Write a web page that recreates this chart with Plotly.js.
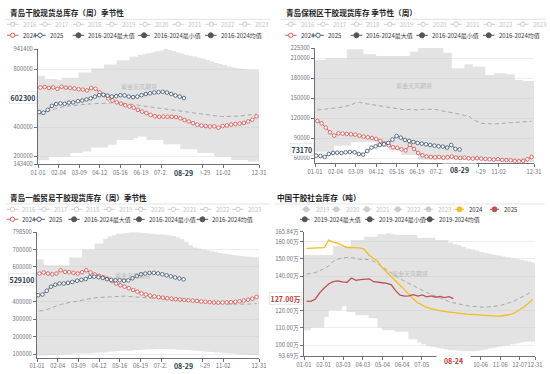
<!DOCTYPE html>
<html><head><meta charset="utf-8">
<script src="https://cdn.plot.ly/plotly-3.0.1.min.js"></script>
<style>html,body{margin:0;padding:0;background:#fff}#c{width:550px;height:374px}</style>
</head><body><div id="c"></div>
<script>
// ---------------- data ----------------
const dates2024 = ["01-05","01-12","01-19","01-26","02-02","02-09","02-16","02-23","03-01","03-08","03-15","03-22","03-29","04-05","04-12","04-19","04-26","05-03","05-10","05-17","05-24","05-31","06-07","06-14","06-21","06-28","07-05","07-12","07-19","07-26","08-02","08-09","08-16","08-23","08-30","09-06","09-13","09-20","09-27","10-04","10-11","10-18","10-25","11-01","11-08","11-15","11-22","11-29","12-06","12-13","12-20","12-27"];
const dates2025 = ["01-03","01-10","01-17","01-24","01-31","02-07","02-14","02-21","02-28","03-07","03-14","03-21","03-28","04-04","04-11","04-18","04-25","05-02","05-09","05-16","05-23","05-30","06-06","06-13","06-20","06-27","07-04","07-11","07-18","07-25","08-01","08-08","08-15","08-22","08-29"];
const p4dates2025 = ["01-05","01-12","01-19","01-26","02-02","02-09","02-16","02-23","03-02","03-09","03-16","03-23","03-30","04-06","04-13","04-20","04-27","05-04","05-11","05-18","05-25","06-01","06-08","06-15","06-22","06-29","07-06","07-13","07-20","07-27","08-03","08-10","08-17","08-24"];

// panel 1: 青岛干胶现货总库存
const p1_2024 = [675000,678000,672000,676000,665000,680000,674000,672000,668000,663000,660000,655000,672000,666000,640000,622000,600000,585000,572000,563000,552000,543000,535000,520000,508000,498000,485000,476000,472000,473000,472000,472000,470000,462000,450000,440000,428000,418000,411000,408000,405000,406000,397000,408000,412000,418000,422000,425000,430000,440000,452000,475000];
const p1_2025 = [505000,500000,520000,548000,560000,565000,562000,570000,572000,580000,585000,592000,600000,612000,622000,625000,618000,612000,615000,622000,620000,612000,608000,612000,622000,630000,635000,640000,643000,645000,640000,630000,620000,612000,602300];
const p1_mean = [490000,495000,515000,525000,533000,540000,545000,549000,552000,555000,558000,560000,562000,564000,566000,567000,568000,569000,570000,568000,564000,556000,552000,548000,544000,540000,537000,533000,530000,526000,522000,518000,515000,511000,507000,503000,499000,495000,492000,488000,482000,478000,476000,474000,473000,474000,476000,478000,480000,484000,487000,492000];
const p1_max = [756000,733000,733000,733000,727000,742000,742000,742000,742000,779000,779000,779000,807000,807000,807000,834000,834000,834000,864000,864000,864000,887000,887000,900000,905000,912000,918000,925000,930000,941400,935000,925000,918000,910000,900000,895000,890000,880000,876000,865000,855000,845000,838000,830000,820000,815000,808000,805000,802000,798000,796000,795000];
const p1_min = [172000,172000,197000,197000,197000,197000,197000,221000,221000,221000,232000,232000,259000,259000,259000,259000,278000,278000,312000,312000,312000,312000,324000,335000,335000,312000,312000,312000,312000,282000,282000,282000,282000,248000,248000,248000,248000,221000,221000,221000,221000,197000,197000,197000,197000,174000,174000,174000,174000,163000,163000,163000];

// panel 2: 青岛保税区干胶现货库存
const p2_2024 = [116000,112500,106000,99000,94000,97500,97000,96500,96000,95500,94000,92500,91500,90500,89000,86000,82500,79500,76500,75500,73500,72000,80000,74000,68000,64500,62500,62000,61500,62000,61000,61500,62500,61000,60500,61000,60000,59500,60000,59500,59000,58500,58000,58500,57500,57500,57000,56000,55500,56000,58500,62000];
const p2_2025 = [64000,63500,62000,66500,68000,68500,68000,69000,69500,69000,66500,65500,71000,76000,78000,80000,81000,83000,88000,93500,91000,87500,86000,84500,83000,82000,81000,80000,79000,78000,77500,76000,80000,74000,73170];
const p2_mean = [132500,133000,133500,134000,135000,136000,137000,138500,140000,143000,144000,142500,141500,140500,140000,139000,137500,136500,135500,134500,133500,132500,133500,133000,132500,133500,133500,133000,133500,132000,131000,130000,128500,127500,126000,124000,123500,118000,115000,112500,112000,111500,111500,112000,112500,113000,113500,114000,114500,115000,115000,115500];
const p2_max = [207500,207500,210000,210000,210000,210000,210000,223500,223500,223500,223500,216000,216000,216000,213500,213500,213500,213500,213500,213500,213500,213500,220000,220000,225300,225300,225300,225300,225300,225300,218000,218000,195000,195000,195000,201000,201000,197500,197500,197500,185000,185000,187500,187500,187500,186000,186000,177500,177500,176000,176000,176000];
const p2_min = [70000,70000,70000,70000,79000,79000,79000,79000,84000,84000,84000,84000,84000,84000,77500,77500,77500,72500,72500,72500,65000,65000,65000,65000,58000,58000,58000,58000,58000,58000,58000,58000,58000,58000,58000,57500,57500,57500,57500,56500,56500,56500,56500,56500,56500,56500,54500,54500,54500,54500,54500,54500];

// panel 3: 青岛一般贸易干胶现货库存
const p3_2024 = [562000,568000,562000,558000,562000,581000,572000,570000,566000,562000,570000,581000,568000,557000,549000,541000,533000,519000,505000,495000,487000,478000,468000,458000,448000,442000,436000,431000,427000,424000,421000,418000,415000,413000,411000,409000,407000,405000,402000,400000,398000,396000,395000,396000,397000,398000,400000,403000,407000,412000,418000,428000];
const p3_2025 = [438000,442000,463000,487000,498000,505000,505000,509000,514000,521000,526000,531000,543000,544000,541000,537000,530000,526000,524000,524000,521000,523000,535000,548000,558000,562000,565000,566000,563000,558000,552000,546000,540000,534000,529100];
const p3_mean = [348000,350000,358000,368000,378000,385000,391000,396000,401000,406000,410000,414000,419000,423000,425000,427000,428000,430000,432000,434000,433000,431000,429000,427000,425000,422000,420000,418000,416000,414000,412000,410000,408000,406000,404000,402000,400000,398000,396000,394000,392000,391000,390000,389000,388000,387000,386000,386000,386000,387000,388000,390000];
const p3_max = [643000,610000,610000,610000,610000,610000,610000,654000,654000,654000,700000,700000,700000,734000,734000,760000,775000,782000,790000,792000,795000,798500,798500,797000,795000,793000,790000,788000,786000,784000,782000,778000,770000,760000,745000,725000,712000,705000,700000,695000,690000,685000,680000,676000,672000,668000,665000,662000,660000,658000,656000,655000];
const p3_min = [93000,93000,95000,95000,97000,97000,100000,100000,102000,104000,104000,104000,106000,108000,110000,110000,114000,116000,118000,119000,120000,120000,122000,124000,126000,128000,128000,130000,130000,130000,128000,128000,126000,125000,124000,122000,120000,118000,116000,114000,112000,110000,108000,106000,104000,102000,100000,98000,97000,96000,95000,95000];

// panel 4: 中国干胶社会库存 (万吨)
const p4_2024 = [156.2,156.3,156.4,156.5,156.6,161.0,159.8,159.2,157.8,156.7,156.6,156.7,156.5,155.8,152.5,150.6,148.8,145.2,142.5,140.0,137.5,135.0,132.5,129.5,127.0,124.8,123.2,122.0,121.2,120.5,120.0,119.6,119.2,118.8,118.5,118.2,118.0,117.8,117.6,117.4,117.2,117.0,116.9,116.8,116.9,117.2,117.8,118.8,120.2,122.0,124.2,126.5];
const p4_2025 = [125.5,125.4,126.8,130.5,133.2,135.5,136.8,137.3,136.7,136.5,139.0,137.6,138.0,138.1,138.5,136.8,136.3,136.2,135.9,135.0,131.5,129.0,128.4,128.6,129.3,128.5,129.2,128.0,128.6,127.8,128.3,127.6,128.1,127.0];
const p4_mean = [141.2,141.6,142.1,143.3,144.3,146.0,148.6,149.8,150.6,150.9,150.9,150.4,149.8,149.8,149.7,148.8,147.5,145.7,143.9,142.1,140.3,138.6,137.3,135.9,134.7,133.3,132.0,130.7,129.5,128.4,127.3,126.4,125.5,124.7,124.0,123.5,123.0,122.6,122.3,122.1,122.0,122.1,122.3,122.7,123.2,123.9,124.8,125.8,127.0,128.3,129.8,131.5];
const p4_max = [152.3,152.3,152.3,152.3,152.3,152.3,157.5,157.5,157.5,157.5,161.0,161.0,161.0,162.9,162.9,162.9,164.3,164.3,164.8,164.3,163.9,163.9,163.9,163.9,163.9,162.3,162.3,162.3,162.3,161.0,161.0,161.0,159.5,158.5,158.0,157.0,156.0,155.5,155.0,154.0,153.5,153.0,152.5,152.0,151.5,151.0,150.5,150.0,149.5,149.0,148.5,148.0];
const p4_min = [108.6,110.2,110.2,110.2,116.4,120.3,120.3,120.3,122.6,119.3,119.3,117.4,117.4,117.4,115.6,115.6,110.2,108.6,108.6,108.6,107.7,107.7,107.7,103.4,103.4,101.5,100.5,99.5,99.0,98.5,98.0,97.5,97.0,97.0,96.8,96.5,96.5,96.5,96.8,97.0,97.5,98.0,98.5,99.0,99.5,100.0,100.5,101.0,101.5,102.0,102.0,102.0];

// tick labels & text
const xticks123 = ["01-01","02-04","03-09","04-12","05-16","06-19","07-23","09-29","11-02","12-31"];
const xticks4 = ["01-01","02-01","03-03","04-03","05-04","06-04","07-05","08-05","09-05","10-06","11-06","12-07","12-31"];
const xticks4Hidden = ["08-05","09-05"];
const y1ticks = [143400,200000,400000,800000,941400];
const y2ticks = [60000,90000,120000,150000,180000,210000,225300];
const y3ticks = [100000,200000,300000,400000,600000,700000,798500];
const y4ticks = [93.69,100,110,120,140,150,160,165.84];
const titles = ["青岛干胶现货总库存（周）季节性","青岛保税区干胶现货库存 季节性（周）","青岛一般贸易干胶现货库存（周）季节性","中国干胶社会库存（吨）"];
const legYears = ["2016","2017","2018","2019","2020","2021","2022","2023"];
const legMain = ["2024","2025","2016-2024最大值","2016-2024最小值","2016-2024均值"];
const legYears4 = ["2019","2020","2021","2022","2023","2024","2025"];
const legMain4 = ["2019-2024最大值","2019-2024最小值","2019-2024均值"];
const lastLabels = ["602300","73170","529100","127.00万"];
const lastValues = [602300,73170,529100,127.0];
const lastDates = ["08-29","08-29","08-29","08-24"];
const watermark = "紫金天风期货";

// ---------------- drawing ----------------
const W=550,H=374;
const F='"Noto Sans CJK SC","Noto Sans",sans-serif';
const px=x=>x/W, py=y=>1-y/H;
const D=md=>'2024-'+md;
const RED='#e05a5a', BLUE='#4a6179', MEAN='#a6a6a6', BAND='rgba(200,200,200,0.5)', AX='#6e7079';
const ORANGE='#f4bc1c', RED4='#c0504d';

const traces=[];
function addPanel(k, min, max, mean, s24, d24, s25, d25, c24, c25, markers){
  const xa = k===1?'x':'x'+k, ya = k===1?'y':'y'+k;
  const bx=['01-01',...dates2024,'12-31'].map(D);
  traces.push({type:'scatter',mode:'lines',x:bx,y:[min[0],...min,min[min.length-1]],xaxis:xa,yaxis:ya,line:{width:0,shape:'hv'},hoverinfo:'skip',showlegend:false});
  traces.push({type:'scatter',mode:'lines',x:bx,y:[max[0],...max,max[max.length-1]],xaxis:xa,yaxis:ya,line:{width:0,shape:'hv'},fill:'tonexty',fillcolor:BAND,hoverinfo:'skip',showlegend:false});
  traces.push({type:'scatter',mode:'lines',x:dates2024.map(D),y:mean,xaxis:xa,yaxis:ya,line:{color:MEAN,width:1,dash:'4px,3px'},showlegend:false});
  const mk=(c)=>({symbol:'circle',size:3.6,color:'#fff',line:{color:c,width:0.9}});
  traces.push({type:'scatter',mode:markers?'lines+markers':'lines',x:d24.map(D),y:s24,xaxis:xa,yaxis:ya,line:{color:c24,width:markers?1:1.3},marker:mk(c24),showlegend:false});
  traces.push({type:'scatter',mode:markers?'lines+markers':'lines',x:d25.map(D),y:s25,xaxis:xa,yaxis:ya,line:{color:c25,width:markers?1:1.3},marker:mk(c25),showlegend:false});
}
addPanel(1,p1_min,p1_max,p1_mean,p1_2024,dates2024,p1_2025,dates2025,RED,BLUE,true);
addPanel(2,p2_min,p2_max,p2_mean,p2_2024,dates2024,p2_2025,dates2025,RED,BLUE,true);
addPanel(3,p3_min,p3_max,p3_mean,p3_2024,dates2024,p3_2025,dates2025,RED,BLUE,true);
addPanel(4,p4_min,p4_max,p4_mean,p4_2024,dates2024,p4_2025,p4dates2025,ORANGE,RED4,false);

function xax(x0,x1,yAnchor,ticks,hidden){
  hidden=hidden||[];
  return {domain:[px(x0),px(x1)],anchor:yAnchor,type:'date',range:[D('01-01'),D('12-31')],
    tickvals:ticks.map(D),ticktext:ticks.map(t=>hidden.includes(t)?'':t),tickangle:0,showline:true,linecolor:AX,linewidth:1,ticks:'outside',ticklen:3,
    tickcolor:AX,tickfont:{size:5.8,color:AX,family:F},showgrid:false,zeroline:false,fixedrange:true};
}
function yax(top,bot,xAnchor,range,tv,tt){
  return {domain:[py(bot),py(top)],anchor:xAnchor,range:range,tickvals:tv,ticktext:tt,showline:true,linecolor:AX,linewidth:1,
    ticks:'outside',ticklen:3,tickcolor:AX,tickfont:{size:5.8,color:AX,family:F},showgrid:true,gridcolor:'#ededed',gridwidth:1,zeroline:false,fixedrange:true};
}
const layout={width:W,height:H,margin:{l:0,r:0,t:0,b:0},paper_bgcolor:'#fff',plot_bgcolor:'rgba(0,0,0,0)',
  showlegend:false,hovermode:false,font:{family:F},
  xaxis:xax(38,259,'y',xticks123),
  yaxis:yax(49,164.3,'x',[143400,941400],y1ticks,y1ticks.map(String)),
  xaxis2:xax(315,534,'y2',xticks123),
  yaxis2:yax(48.1,162.7,'x2',[53400,225300],y2ticks,y2ticks.map(String)),
  xaxis3:xax(37,259,'y3',xticks123),
  yaxis3:yax(232.3,357.5,'x3',[81000,798500],y3ticks,y3ticks.map(String)),
  xaxis4:xax(304,535,'y4',xticks4,xticks4Hidden),
  yaxis4:yax(231.7,356,'x4',[93.69,165.84],y4ticks,y4ticks.map(v=>v.toFixed(2)+'万')),
};

const ann=[], shp=[];
function txt(x,y,t,o){ann.push(Object.assign({xref:'paper',yref:'paper',x:px(x),y:py(y),text:t,showarrow:false,xanchor:'left',yanchor:'middle',font:{size:6,color:'#333',family:F}},o||{}));}
function icon(x,y,len,r,c,filled){
  shp.push({type:'line',xref:'paper',yref:'paper',x0:px(x),x1:px(x+len),y0:py(y),y1:py(y),line:{color:c,width:1}});
  const cx=x+len/2;
  shp.push({type:'circle',xref:'paper',yref:'paper',x0:px(cx-r),x1:px(cx+r),y0:py(y+r),y1:py(y-r),fillcolor:filled?c:'#fff',line:{color:c,width:1}});
}
// titles and separators
const tpos=[[8,12.7],[284,12.7],[8,197.7],[275,197.7]];
titles.forEach((t,i)=>txt(tpos[i][0],tpos[i][1],'<b>'+t+'</b>',{font:{size:7.6,color:'#222',family:F}}));
[[5,270,19.3],[280,545,19.3],[5,270,204],[275,545,204]].forEach(s=>shp.push({type:'line',xref:'paper',yref:'paper',x0:px(s[0]),x1:px(s[1]),y0:py(s[2]),y1:py(s[2]),line:{color:'#e3e3e3',width:1}}));

// legends panels 1-3
function legend123(ox,r1y,r2y,row1,row2){
  legYears.forEach((t,i)=>{const x=ox+row1[i];icon(x,r1y,11.5,2.2,'#cccccc',false);txt(x+13.6,r1y,t,{font:{size:6,color:'#c4c4c4',family:F}});});
  const cols=[RED,BLUE,'#555','#555','#555'];
  legMain.forEach((t,i)=>{const x=ox+row2[i];icon(x,r2y,11.5,i<2?2.2:2.5,cols[i],i>=2);txt(x+13.6,r2y,t,{font:{size:6,color:'#333',family:F}});});
}
const r1a=[7,39.3,72.7,106,139.3,172.3,205.7,239], r2a=[7,34.3,72.7,138.3,205];
legend123(0,24.3,35.3,r1a,r2a);
legend123(278,24.3,35.3,r1a,r2a);
legend123(0,209.3,219.3,[6.7,38.3,70.7,103.3,135,167.7,200,232.3],[6.7,33.3,68.3,133.3,196.7]);
// legend panel 4
const r14=[301.7,331.7,362.3,393.3,424,455,490];
legYears4.forEach((t,i)=>{const c=i<5?'#cccccc':(i===5?ORANGE:RED4);icon(r14[i],209.3,9,2.5,c,true);txt(r14[i]+11.8,209.3,t,{font:{size:6,color:i<5?'#c4c4c4':'#333',family:F}});});
[300,365,425].forEach((x,i)=>{icon(x,219.3,9.5,2.5,'#555',true);txt(x+12,219.3,legMain4[i],{font:{size:6,color:'#333',family:F}});});

// watermarks
[[139,86.7],[413.5,85.7],[133,275],[410,273.3]].forEach(p=>txt(p[0],p[1],watermark,{xanchor:'center',font:{size:6,color:'rgba(150,150,150,0.55)',family:F}}));

// last value labels (y) and last date labels (x)
const yl=[[36.5,'y'],[313.5,'y2'],[35.5,'y3'],[302,'y4']];
const xl=[['x',172.3],['x2',169.8],['x3',365],['x4',360.5]];
lastLabels.forEach((t,i)=>{
  const col=i===3?'#c23531':'#2b3a4a';
  ann.push({xref:'paper',yref:yl[i][1],x:px(yl[i][0]),y:lastValues[i],text:'<b>'+t+'</b>',showarrow:false,xanchor:'right',yanchor:'middle',
    font:{size:7,color:col,family:F},bgcolor:'#fff',bordercolor:'#dedede',borderwidth:0.6,borderpad:1});
  ann.push({xref:xl[i][0],yref:'paper',x:D(lastDates[i]),y:py(xl[i][1]),text:'<b>'+lastDates[i]+'</b>',showarrow:false,xanchor:'center',yanchor:'middle',
    width:31,height:9,font:{size:7,color:col,family:F},bgcolor:'#fff'});
});
layout.annotations=ann; layout.shapes=shp;
Plotly.newPlot('c',traces,layout,{staticPlot:true,displayModeBar:false});
</script></body></html>
